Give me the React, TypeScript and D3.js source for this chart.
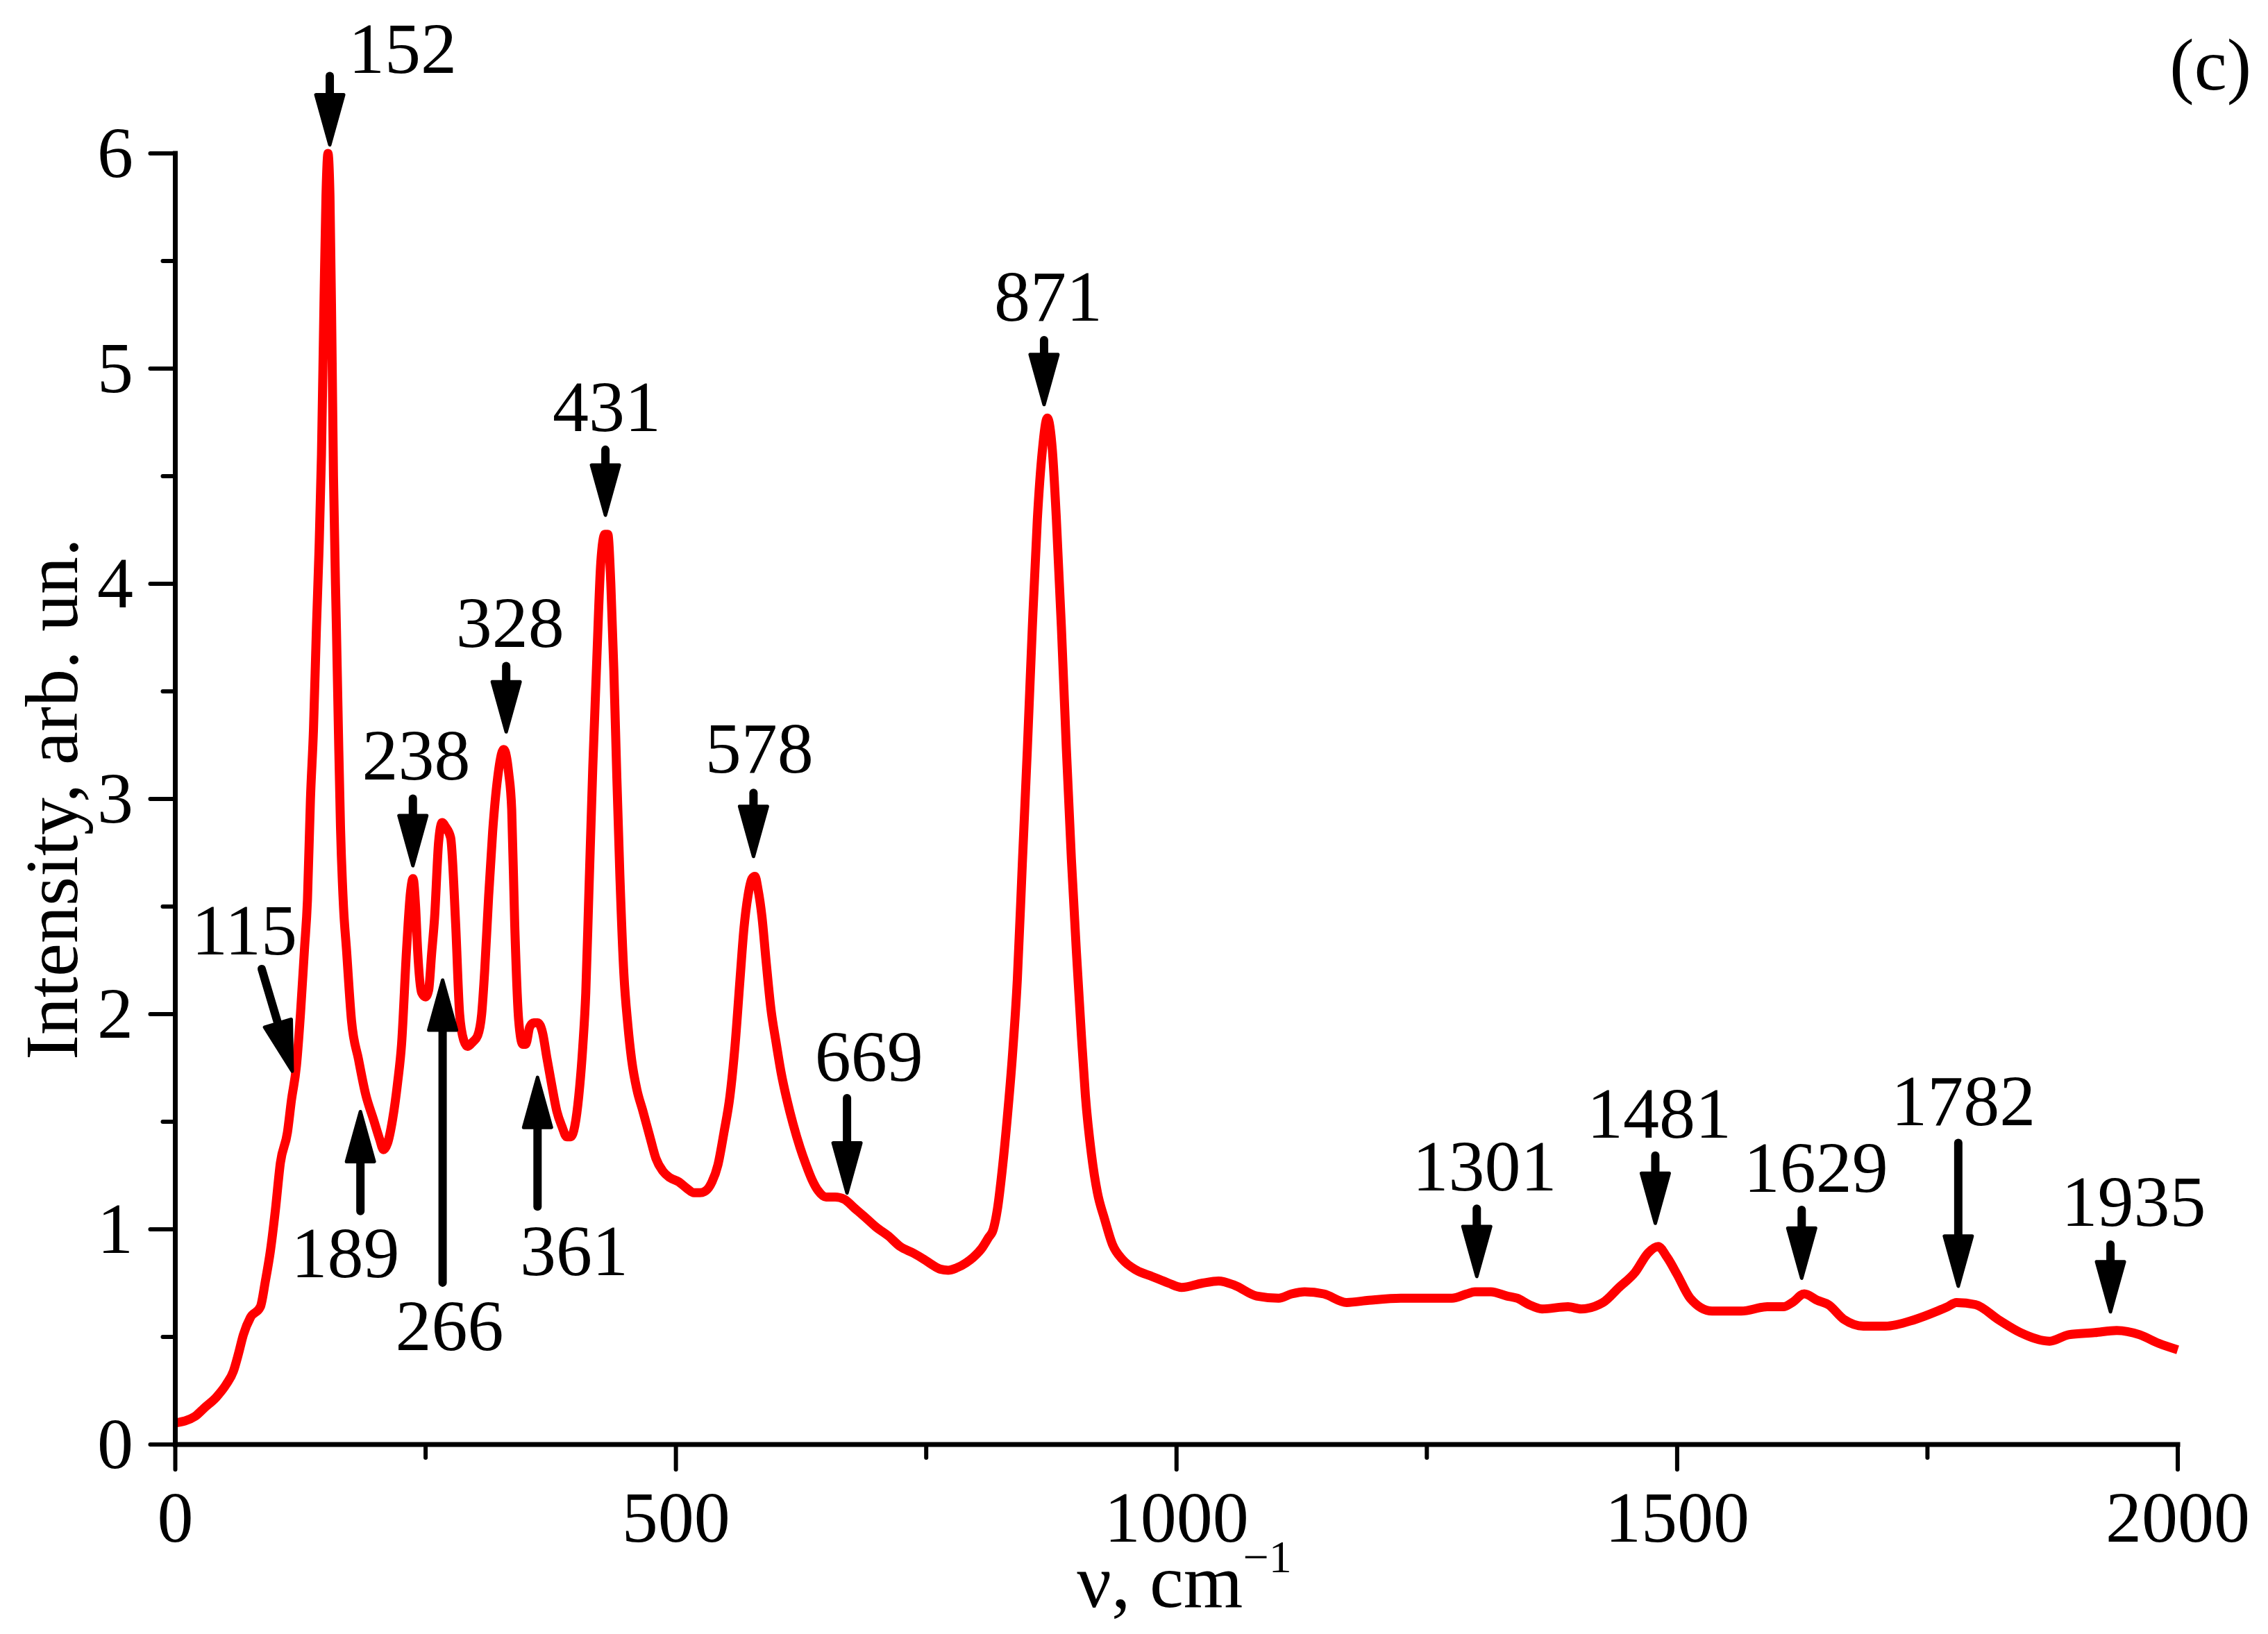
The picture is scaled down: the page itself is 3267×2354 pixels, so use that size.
import * as d3 from "d3";

// spectrum
const wavenumber = [
  0, 19.5, 29, 41, 51, 58, 63, 68, 75, 85, 90, 95, 100, 105, 112, 116, 121, 125, 129, 132, 135, 138, 141, 143.5,
  146, 148.5, 150.5, 152.5, 154.5, 156.5, 158, 161, 163, 165, 168, 171, 176, 183, 190, 198, 204, 208, 212, 217,
  222, 226, 231, 235, 237.5, 240, 242, 246, 250, 253, 256, 259, 263, 266.5, 270, 275, 280, 284, 288, 292, 297,
  302, 306, 309, 313, 317, 322, 328, 333, 336, 339, 343, 347, 350, 354, 358, 362, 367, 371, 376, 381, 386, 391,
  395, 399, 403, 407, 410, 413, 417, 421, 425, 429, 432, 435, 438, 441, 444, 448, 452, 456, 461, 467, 474, 480,
  487, 494, 503, 511, 518, 524, 530, 536, 542, 548, 554, 559, 564, 568, 572, 576, 579, 582, 586, 590, 595, 600,
  605, 611, 617, 624, 630, 636, 642, 650, 659, 668, 678, 688, 700, 712, 724, 737, 748, 756, 764, 772, 780, 790,
  797, 806, 812, 817, 821, 826, 831, 836, 841, 846, 851, 856, 861, 866, 871, 876, 880, 885, 890, 895, 900, 905,
  909, 915, 921, 928, 936, 946, 960, 976, 992, 1005, 1026, 1042, 1058, 1080, 1102, 1115, 1128, 1147, 1170, 1192,
  1224, 1250, 1275, 1290, 1298, 1314, 1330, 1340, 1352, 1365, 1391, 1404, 1426, 1442, 1458, 1471, 1481, 1490,
  1500, 1513, 1535, 1564, 1590, 1606, 1615, 1627, 1640, 1651, 1667, 1686, 1708, 1737, 1760, 1770, 1779, 1798,
  1821, 1843, 1872, 1891, 1917, 1939, 1962, 1981, 2000,
];
const intensity = [
  0.1, 0.13, 0.17, 0.22, 0.28, 0.34, 0.42, 0.51, 0.59, 0.64, 0.76, 0.9, 1.09, 1.31, 1.45, 1.6, 1.76, 2.0, 2.3, 2.53,
  3.0, 3.32, 3.8, 4.15, 4.6, 5.3, 5.8, 6.0, 5.8, 5.1, 4.5, 3.78, 3.3, 2.87, 2.5, 2.3, 1.97, 1.79, 1.63, 1.51, 1.42,
  1.37, 1.4, 1.51, 1.68, 1.86, 2.3, 2.57, 2.63, 2.5, 2.3, 2.1, 2.08, 2.11, 2.28, 2.45, 2.8, 2.89, 2.87, 2.82, 2.42,
  2.0, 1.88, 1.85, 1.87, 1.9, 2.0, 2.2, 2.55, 2.85, 3.1, 3.23, 3.12, 2.95, 2.42, 1.97, 1.86, 1.86, 1.94, 1.96, 1.96,
  1.91, 1.8, 1.67, 1.55, 1.48, 1.43, 1.43, 1.48, 1.62, 1.85, 2.1, 2.55, 3.15, 3.65, 4.1, 4.23, 4.23, 4.0, 3.6, 3.1,
  2.65, 2.19, 1.95, 1.78, 1.65, 1.55, 1.43, 1.33, 1.27, 1.24, 1.22, 1.19, 1.17, 1.17, 1.18, 1.22, 1.3, 1.45, 1.62,
  1.85, 2.16, 2.4, 2.55, 2.63, 2.64, 2.58, 2.45, 2.25, 2.02, 1.87, 1.73, 1.6, 1.49, 1.38, 1.3, 1.23, 1.18, 1.15,
  1.15, 1.14, 1.1, 1.06, 1.01, 0.97, 0.92, 0.89, 0.86, 0.835, 0.815, 0.81, 0.82, 0.845, 0.87, 0.915, 0.96, 1.0, 1.09,
  1.28, 1.52, 1.8, 2.16, 2.7, 3.23, 3.8, 4.3, 4.62, 4.77, 4.62, 4.3, 3.8, 3.23, 2.72, 2.29, 1.9, 1.62, 1.35, 1.17,
  1.05, 0.93, 0.86, 0.81, 0.78, 0.75, 0.73, 0.75, 0.76, 0.74, 0.69, 0.68, 0.7, 0.71, 0.7, 0.66, 0.67, 0.68, 0.68,
  0.68, 0.7, 0.71, 0.71, 0.69, 0.68, 0.65, 0.63, 0.64, 0.63, 0.66, 0.73, 0.8, 0.89, 0.92, 0.87, 0.79, 0.68, 0.62,
  0.62, 0.64, 0.64, 0.66, 0.7, 0.67, 0.65, 0.58, 0.55, 0.55, 0.58, 0.62, 0.64, 0.66, 0.65, 0.58, 0.52, 0.48, 0.51,
  0.52, 0.53, 0.51, 0.47, 0.44,
];

// peak annotations (data units): arrow tail -> tip, label anchor
const peakLabels = ["152", "115", "189", "266", "361", "238", "328", "431", "578", "669", "871", "1301", "1481", "1629", "1782", "1935"];
const tailX = [154.3, 86.3, 184.9, 267, 361.8, 237.3, 330.5, 429.6, 577.5, 670.9, 867.7, 1299.9, 1478.2, 1624.4, 1780.8, 1932.8];
const tailY = [6.36, 2.21, 1.085, 0.752, 1.106, 3.002, 3.618, 4.623, 3.028, 1.61, 5.132, 1.096, 1.343, 1.09, 1.402, 0.929];
const tipX = [154.3, 116.8, 184.9, 267, 361.8, 237.3, 330.5, 429.6, 577.5, 670.9, 867.7, 1299.9, 1478.2, 1624.4, 1780.8, 1932.8];
const tipY = [6.04, 1.735, 1.547, 2.158, 1.706, 2.69, 3.312, 4.319, 2.733, 1.169, 4.833, 0.781, 1.028, 0.773, 0.736, 0.617];
const labelX = [227.1, 69, 169.9, 273.9, 398.3, 240.6, 334.4, 430.9, 583.3, 692.8, 871.9, 1307.6, 1482, 1638.5, 1785.9, 1955.9];
const labelY = [6.374, 2.277, 0.777, 0.439, 0.787, 3.09, 3.708, 4.71, 3.121, 1.691, 5.223, 1.18, 1.427, 1.174, 1.485, 1.016];

const xTicks = [0, 500, 1000, 1500, 2000];
const xMinor = [250, 750, 1250, 1750];
const yTicks = [0, 1, 2, 3, 4, 5, 6];
const yMinor = [0.5, 1.5, 2.5, 3.5, 4.5, 5.5];

const W = 3267;
const H = 2354;
const FONT = "'Liberation Serif', 'Times New Roman', serif";

const x = d3.scaleLinear().domain([0, 2000]).range([252.5, 3137]);
const y = d3.scaleLinear().domain([0, 6]).range([2081, 221]);

const Arrow = ({ x1, y1, x2, y2 }: { x1: number; y1: number; x2: number; y2: number }) => {
  const headLen = 72;
  const headW = 40;
  const dx = x2 - x1;
  const dy = y2 - y1;
  const len = Math.hypot(dx, dy);
  const ux = dx / len;
  const uy = dy / len;
  const bx = x2 - ux * headLen;
  const by = y2 - uy * headLen;
  const px = -uy * (headW / 2);
  const py = ux * (headW / 2);
  const pts = [
    [x2, y2],
    [bx + px, by + py],
    [bx - px, by - py],
  ];
  return (
    <g>
      <line x1={x1} y1={y1} x2={bx} y2={by} stroke="#000" strokeWidth={12} strokeLinecap="round" />
      <polygon
        points={pts.map((p) => p.join(",")).join(" ")}
        fill="#000"
        stroke="#000"
        strokeWidth={5}
        strokeLinejoin="round"
      />
    </g>
  );
};

export default function App() {
  const data = wavenumber.map((w, i) => [w, intensity[i]] as [number, number]);
  const line = d3
    .line<[number, number]>()
    .x((d) => x(d[0]))
    .y((d) => y(d[1]))
    .curve(d3.curveMonotoneX);

  const x0 = x.range()[0];
  const yBase = y(0);

  return (
    <svg
      width={W}
      height={H}
      viewBox={`0 0 ${W} ${H}`}
      style={{ position: "absolute", left: 0, top: 0, background: "#fff" }}
      fontFamily={FONT}
    >
      <rect width={W} height={H} fill="#fff" />

      {/* spectrum */}
      <path d={line(data) ?? ""} fill="none" stroke="#ff0000" strokeWidth={13} strokeLinejoin="round" />

      {/* axes */}
      <line x1={x0} y1={yBase} x2={x.range()[1]} y2={yBase} stroke="#000" strokeWidth={7} strokeLinecap="square" />
      <line x1={x0} y1={yBase} x2={x0} y2={y(6)} stroke="#000" strokeWidth={7} strokeLinecap="square" />

      {xTicks.map((t) => (
        <g key={`xt${t}`}>
          <line x1={x(t)} y1={yBase} x2={x(t)} y2={yBase + 36} stroke="#000" strokeWidth={6} strokeLinecap="round" />
          <text x={x(t)} y={2221} textAnchor="middle" fontSize={104}>
            {t}
          </text>
        </g>
      ))}
      {xMinor.map((t) => (
        <line key={`xm${t}`} x1={x(t)} y1={yBase} x2={x(t)} y2={yBase + 19} stroke="#000" strokeWidth={6} strokeLinecap="round" />
      ))}
      {yTicks.map((t) => (
        <g key={`yt${t}`}>
          <line x1={x0} y1={y(t)} x2={x0 - 36} y2={y(t)} stroke="#000" strokeWidth={6} strokeLinecap="round" />
          <text x={192} y={y(t) + 34} textAnchor="end" fontSize={104}>
            {t}
          </text>
        </g>
      ))}
      {yMinor.map((t) => (
        <line key={`ym${t}`} x1={x0} y1={y(t)} x2={x0 - 18} y2={y(t)} stroke="#000" strokeWidth={6} strokeLinecap="round" />
      ))}

      {/* axis titles */}
      <text x={1706} y={2315} textAnchor="middle" fontSize={110}>
        ν, cm
        <tspan fontSize={66} dy={-50}>
          −1
        </tspan>
      </text>
      <text transform={`translate(111, ${(y(0) + y(6)) / 2}) rotate(-90)`} textAnchor="middle" fontSize={108}>
        Intensity, arb. un.
      </text>

      <text x={3243} y={129} textAnchor="end" fontSize={106}>
        (c)
      </text>

      {/* peak arrows */}
      {peakLabels.map((lab, i) => (
        <g key={lab}>
          <Arrow x1={x(tailX[i])} y1={y(tailY[i])} x2={x(tipX[i])} y2={y(tipY[i])} />
          <text x={x(labelX[i])} y={y(labelY[i])} textAnchor="middle" fontSize={104}>
            {lab}
          </text>
        </g>
      ))}
    </svg>
  );
}
